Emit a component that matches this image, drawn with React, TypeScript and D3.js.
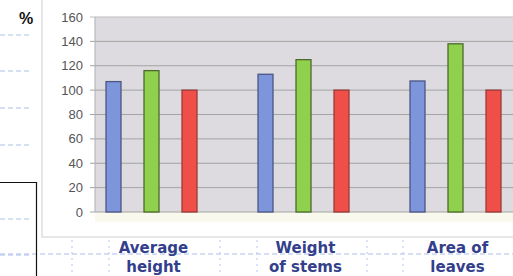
import React from "react";
import * as d3 from "d3";

const categories = ["Average|height", "Weight|of stems", "Area of|leaves"];
const series = ["A", "B", "C"];
const seriesValues: number[][] = [
  [107, 113, 107.5],
  [116, 125, 138],
  [100, 100, 100],
];
const yTicks = [0, 20, 40, 60, 80, 100, 120, 140, 160];
const fills = ["#7d95da", "#8fd14c", "#ef4f48"];
const strokes = ["#4a5785", "#4d6a2c", "#9a3b38"];

export default function App() {
  const W = 513, H = 276;
  const plotL = 95, plotR = 513, plotT = 17, plotB = 212;
  const y = d3.scaleLinear().domain([0, 160]).range([plotB, plotT]);
  const x0 = d3.scaleBand<string>().domain(categories).range([75.5, 531.5]);
  const x1 = d3.scalePoint<string>().domain(series).range([-38, 38]);
  const bw = 15;

  const leftDash = [35, 71, 108, 145, 219, 255];
  const vDash = [72, 109, 220, 257, 367, 403];

  return (
    <div style={{ position: "absolute", left: 0, top: 0 }}>
      <svg width={W} height={H} style={{ display: "block", fontFamily: "Arial, 'Liberation Sans', sans-serif" }}>
        <rect x={0} y={0} width={W} height={H} fill="#ffffff" />
        {leftDash.map((d, i) => (
          <line key={"ld" + i} x1={0} x2={32} y1={d} y2={d} stroke="#a9bdeb" strokeWidth={1} strokeDasharray="5,3" />
        ))}
        <line x1={0} x2={W} y1={254} y2={254} stroke="#a9bdeb" strokeWidth={1} strokeDasharray="5,3" />
        {vDash.map((d, i) => (
          <line key={"vd" + i} x1={d} x2={d} y1={240} y2={H} stroke="#b5c6ee" strokeWidth={1} strokeDasharray="2,4" />
        ))}
        <path d={`M0,182.5 H36.5 V${H}`} fill="none" stroke="#111" strokeWidth={1.2} />
        {/* chart box */}
        <rect x={42} y={-2} width={W} height={239} fill="#ffffff" stroke="#cfcfcf" strokeWidth={1} />
        <rect x={plotL} y={plotB} width={plotR - plotL} height={10} fill="#f9f9ee" />
        <text x={19} y={24} fontSize={16} fontWeight="bold" fill="#111">%</text>
        <rect x={plotL} y={plotT} width={plotR - plotL} height={plotB - plotT} fill="#dddbdf" />
        {yTicks.map((t) => (
          <g key={t}>
            <line x1={90} x2={plotR} y1={y(t)} y2={y(t)} stroke={t === 160 ? "#bdbdbd" : "#a3a3a3"} strokeWidth={1} />
            <text x={83} y={y(t) + 4.5} fontSize={13} textAnchor="end" fill="#555">{t}</text>
          </g>
        ))}
        <line x1={plotL} x2={plotL} y1={plotT} y2={plotB} stroke="#b0b0b0" strokeWidth={1} />
        {categories.map((c, ci) =>
          series.map((s, si) => {
            const v = seriesValues[si][ci];
            const cx = (x0(c) as number) + x0.bandwidth() / 2 + (x1(s) as number);
            return (
              <rect key={c + s} x={cx - bw / 2} y={y(v)} width={bw} height={plotB - y(v)}
                fill={fills[si]} stroke={strokes[si]} strokeWidth={1.3} />
            );
          })
        )}
        {categories.map((c) => {
          const cx = (x0(c) as number) + x0.bandwidth() / 2 + 2;
          const [a, b] = c.split("|");
          return (
            <text key={c} textAnchor="middle" fontSize={15} fontWeight="bold" fill="#343f8c"
              fontFamily="Verdana, 'DejaVu Sans', sans-serif">
              <tspan x={cx} y={253}>{a}</tspan>
              <tspan x={cx} y={272}>{b}</tspan>
            </text>
          );
        })}
      </svg>
    </div>
  );
}
